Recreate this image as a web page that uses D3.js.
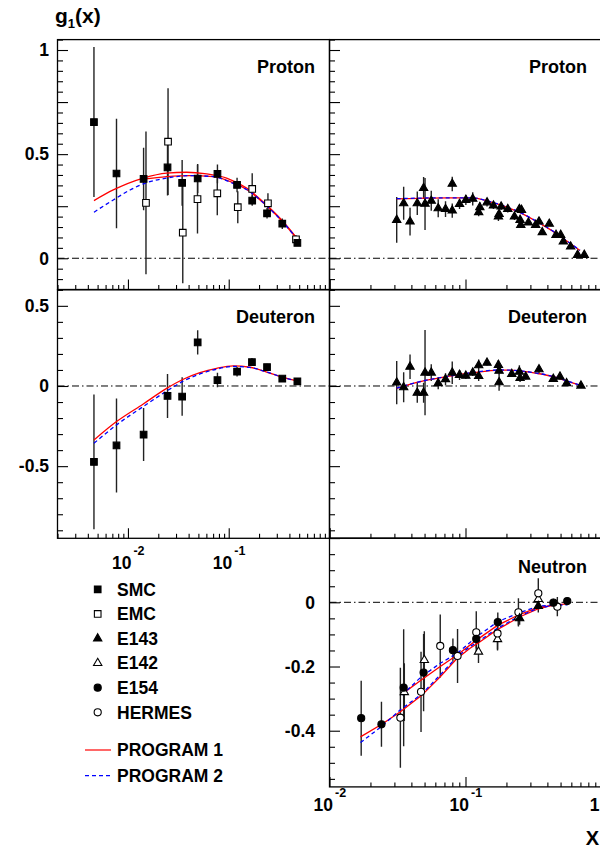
<!DOCTYPE html>
<html><head><meta charset="utf-8">
<script src="https://cdn.jsdelivr.net/npm/d3@7"></script>
<style>
body{margin:0;background:#fff}
svg{display:block}
text{font-family:"Liberation Sans",Arial,Helvetica,sans-serif;font-weight:bold;fill:#000}
</style>
</head><body>
<svg id="chart" width="600" height="848"></svg>
<script>
// ---- axis ranges and tick labels ----
const xDomainLow = [0.002, 1];      // SMC / EMC column
const xDomainHigh = [0.01, 1];      // SLAC / HERMES column
const protonRange = [-0.15, 1.05];
const deuteronRange = [-0.95, 0.6];
const neutronRange = [-0.575, 0.2];
const protonTickLabels = [0, 0.5, 1];
const deuteronTickLabels = [-0.5, 0, 0.5];
const neutronTickLabels = [-0.4, -0.2, 0];
const xLabelsLow = [0.01, 0.1];
const xLabelsHigh = [0.01, 0.1, 1];

// ---- measurements: [x, g1, error] ----
const smcProton = [
  [0.0046, 0.654, 0.36], [0.0077, 0.407, 0.263], [0.0143, 0.381, 0.15],
  [0.0247, 0.436, 0.135], [0.0345, 0.362, 0.11], [0.0492, 0.383, 0.07],
  [0.0773, 0.405, 0.045], [0.121, 0.352, 0.035], [0.171, 0.277, 0.025],
  [0.24, 0.216, 0.025], [0.34, 0.166, 0.025], [0.48, 0.074, 0.012]
];
const emcProton = [
  [0.0151, 0.266, 0.343], [0.025, 0.56, 0.256], [0.035, 0.123, 0.243],
  [0.049, 0.284, 0.165], [0.077, 0.312, 0.105], [0.123, 0.245, 0.077],
  [0.171, 0.333, 0.075], [0.245, 0.264, 0.048], [0.465, 0.091, 0.02]
];
const e143Proton = [
  [0.0312, 0.184, 0.11], [0.0351, 0.264, 0.079], [0.0391, 0.176, 0.067],
  [0.0442, 0.264, 0.056], [0.0492, 0.337, 0.053], [0.0504, 0.261, 0.125],
  [0.056, 0.276, 0.048], [0.063, 0.24, 0.043], [0.0713, 0.236, 0.038],
  [0.0799, 0.357, 0.035], [0.0799, 0.229, 0.034], [0.0904, 0.26, 0.024],
  [0.1006, 0.28, 0.024], [0.113, 0.285, 0.032], [0.125, 0.221, 0.019],
  [0.1275, 0.245, 0.024], [0.144, 0.268, 0.019], [0.1605, 0.253, 0.016],
  [0.1746, 0.2, 0.021], [0.1766, 0.212, 0.021], [0.1828, 0.248, 0.016],
  [0.2046, 0.236, 0.016], [0.229, 0.2, 0.016], [0.249, 0.236, 0.016],
  [0.252, 0.184, 0.019], [0.255, 0.16, 0.012], [0.258, 0.232, 0.013],
  [0.29, 0.171, 0.01], [0.328, 0.16, 0.01], [0.347, 0.176, 0.013],
  [0.367, 0.125, 0.013], [0.413, 0.165, 0.01], [0.463, 0.112, 0.01],
  [0.501, 0.112, 0.01], [0.524, 0.08, 0.01], [0.593, 0.056, 0.01],
  [0.667, 0.016, 0.008], [0.747, 0.016, 0.008]
];
const smcDeuteron = [
  [0.0046, -0.473, 0.42], [0.0077, -0.371, 0.293], [0.0143, -0.303, 0.165],
  [0.0247, -0.062, 0.137], [0.0345, -0.066, 0.12], [0.0492, 0.272, 0.075],
  [0.0773, 0.037, 0.045], [0.121, 0.089, 0.03], [0.17, 0.149, 0.025],
  [0.24, 0.118, 0.02], [0.34, 0.046, 0.015], [0.48, 0.029, 0.01]
];
const e143Deuteron = [
  [0.0312, 0.021, 0.135], [0.0351, -0.008, 0.093], [0.0391, 0.12, 0.077],
  [0.0442, -0.042, 0.062], [0.0492, -0.042, 0.062], [0.0504, 0.083, 0.266],
  [0.056, 0.083, 0.052], [0.063, 0.017, 0.037], [0.0713, 0.042, 0.037],
  [0.0799, 0.083, 0.07], [0.0904, 0.069, 0.031], [0.1006, 0.064, 0.021],
  [0.113, 0.083, 0.021], [0.125, 0.129, 0.037], [0.125, 0.062, 0.031],
  [0.144, 0.145, 0.017], [0.1746, 0.131, 0.031], [0.1766, 0.023, 0.052],
  [0.1766, 0.095, 0.021], [0.219, 0.075, 0.017], [0.249, 0.089, 0.041],
  [0.252, 0.05, 0.025], [0.277, 0.058, 0.017], [0.347, 0.104, 0.025],
  [0.442, 0.044, 0.017], [0.495, 0.058, 0.017], [0.554, 0.017, 0.012],
  [0.706, 0.002, 0.01]
];
const e154Neutron = [
  [0.0171, -0.361, 0.117], [0.0241, -0.38, 0.07], [0.0351, -0.266, 0.182],
  [0.0492, -0.219, 0.12], [0.0808, -0.149, 0.036], [0.12, -0.114, 0.03],
  [0.1728, -0.062, 0.03], [0.443, -0.001, 0.012], [0.56, 0.004, 0.008]
];
const e143Neutron = [
  [0.25, -0.05, 0.02], [0.343, -0.0115, 0.02]
];
const e142Neutron = [
  [0.0355, -0.28, 0.09], [0.0498, -0.18, 0.09], [0.1246, -0.154, 0.035],
  [0.172, -0.115, 0.035], [0.245, -0.047, 0.025], [0.343, 0.01, 0.025]
];
const hermesNeutron = [
  [0.0332, -0.3595, 0.156], [0.0471, -0.279, 0.125], [0.0652, -0.136, 0.098],
  [0.0874, -0.167, 0.084], [0.12, -0.0935, 0.066], [0.172, -0.097, 0.05],
  [0.245, -0.031, 0.044], [0.343, 0.028, 0.047], [0.4735, -0.0137, 0.03]
];

// ---- model curves: [x, g1] ----
const prog1ProtonLowA = [
  [0.0046, 0.277], [0.00715, 0.328], [0.0142, 0.385], [0.0242, 0.409],
  [0.0382, 0.413], [0.0604, 0.405], [0.0953, 0.385], [0.1506, 0.337],
  [0.2377, 0.256], [0.3475, 0.176], [0.49, 0.088]
];
const prog1ProtonLowB = [
  [0.0142, 0.38], [0.0242, 0.392], [0.0412, 0.397], [0.0703, 0.392],
  [0.11, 0.363], [0.1506, 0.33], [0.2377, 0.252], [0.3475, 0.172], [0.49, 0.085]
];
const prog2ProtonLow = [
  [0.0046, 0.221], [0.00715, 0.28], [0.0105, 0.328], [0.0153, 0.363],
  [0.0242, 0.385], [0.0412, 0.397], [0.0703, 0.392], [0.11, 0.36],
  [0.1506, 0.33], [0.2377, 0.252], [0.3475, 0.172], [0.49, 0.085]
];
const prog1ProtonHigh = [
  [0.0312, 0.285], [0.0466, 0.288], [0.073, 0.29], [0.113, 0.29],
  [0.1435, 0.276], [0.18, 0.256], [0.252, 0.219], [0.334, 0.176],
  [0.443, 0.128], [0.555, 0.083], [0.695, 0.037]
];
const prog2ProtonHigh = [
  [0.0312, 0.286], [0.0466, 0.289], [0.073, 0.29], [0.113, 0.29],
  [0.1435, 0.276], [0.18, 0.257], [0.252, 0.22], [0.334, 0.177],
  [0.443, 0.129], [0.555, 0.084], [0.695, 0.038]
];
const prog1DeuteronLow = [
  [0.0046, -0.337], [0.0077, -0.222], [0.0142, -0.112], [0.0242, -0.015],
  [0.0354, 0.042], [0.0518, 0.083], [0.0758, 0.11], [0.111, 0.125],
  [0.162, 0.117], [0.238, 0.087], [0.34, 0.055], [0.482, 0.03]
];
const prog2DeuteronLow = [
  [0.0046, -0.357], [0.0077, -0.243], [0.0142, -0.128], [0.0242, -0.032],
  [0.0354, 0.03], [0.0518, 0.075], [0.0758, 0.105], [0.111, 0.122],
  [0.162, 0.116], [0.238, 0.087], [0.34, 0.055], [0.482, 0.03]
];
const prog1DeuteronHigh = [
  [0.0312, -0.0145], [0.0466, 0.027], [0.073, 0.058], [0.113, 0.083],
  [0.18, 0.0996], [0.225, 0.0975], [0.334, 0.079], [0.443, 0.058],
  [0.555, 0.031], [0.706, 0.002]
];
const prog2DeuteronHigh = [
  [0.0312, -0.013], [0.0466, 0.028], [0.073, 0.059], [0.113, 0.084],
  [0.18, 0.1], [0.225, 0.098], [0.334, 0.08], [0.443, 0.059],
  [0.555, 0.032], [0.706, 0.003]
];
const prog1NeutronA = [
  [0.0169, -0.419], [0.0244, -0.379], [0.0332, -0.341], [0.0479, -0.289],
  [0.0652, -0.232], [0.0865, -0.175], [0.108, -0.143], [0.128, -0.123],
  [0.17, -0.086], [0.252, -0.045], [0.334, -0.022], [0.443, -0.008], [0.57, -0.005]
];
const prog1NeutronB = [
  [0.0341, -0.286], [0.0473, -0.242], [0.0652, -0.2], [0.0869, -0.164],
  [0.121, -0.117], [0.173, -0.071], [0.244, -0.04], [0.343, -0.016], [0.47, -0.008]
];
const prog2NeutronA = [
  [0.0169, -0.437], [0.0241, -0.387], [0.0332, -0.335], [0.0479, -0.285],
  [0.0652, -0.226], [0.0865, -0.17], [0.108, -0.138], [0.128, -0.118],
  [0.17, -0.082], [0.252, -0.042], [0.334, -0.02], [0.443, -0.009], [0.56, -0.008]
];
const prog2NeutronB = [
  [0.0341, -0.289], [0.0473, -0.232], [0.0652, -0.19], [0.0869, -0.159],
  [0.121, -0.107], [0.173, -0.06], [0.244, -0.034], [0.343, -0.012], [0.47, -0.008]
];

// ---- legend ----
const legendMarkers = [
  ["SMC", "square"], ["EMC", "squareOpen"], ["E143", "triangle"],
  ["E142", "triangleOpen"], ["E154", "circle"], ["HERMES", "circleOpen"]
];
const legendLines = [["PROGRAM 1", "prog1"], ["PROGRAM 2", "prog2"]];

// ---- drawing ----
const svg = d3.select("#chart");
svg.append("rect").attr("width", 600).attr("height", 848).attr("fill", "#fff");

const colLow = [57.5, 329.5], colHigh = [329.5, 601.5];
const rowP = [289.5, 39.6], rowD = [538.3, 289.8], rowN = [786.9, 538.1];

const xLow = d3.scaleLog().domain(xDomainLow).range(colLow);
const xHigh = d3.scaleLog().domain(xDomainHigh).range(colHigh);
const yP = d3.scaleLinear().domain(protonRange).range(rowP);
const yD = d3.scaleLinear().domain(deuteronRange).range(rowD);
const yN = d3.scaleLinear().domain(neutronRange).range(rowN);

const styles = {
  prog1: {stroke: "#ff0000", dash: null},
  prog2: {stroke: "#0000ff", dash: "4,3"}
};

const symbolDefs = {
  square: {type: d3.symbolSquare, size: 44, fill: "#000"},
  squareOpen: {type: d3.symbolSquare, size: 44, fill: "#fff"},
  triangle: {type: d3.symbolTriangle, size: 30, fill: "#000"},
  triangleOpen: {type: d3.symbolTriangle, size: 30, fill: "#fff"},
  circle: {type: d3.symbolCircle, size: 40, fill: "#000"},
  circleOpen: {type: d3.symbolCircle, size: 40, fill: "#fff"}
};

let clipId = 0;
function panel(x, y, opts) {
  const [x0, x1] = x.range(), [y0, y1] = y.range();
  const g = svg.append("g");
  const id = "clip" + (clipId++);
  svg.append("clipPath").attr("id", id).append("rect")
    .attr("x", x0).attr("y", y1).attr("width", x1 - x0).attr("height", y0 - y1);
  const plot = g.append("g").attr("clip-path", `url(#${id})`);

  // zero reference line
  plot.append("line").attr("x1", x0).attr("x2", x1)
    .attr("y1", y(0)).attr("y2", y(0))
    .attr("stroke", "#000").attr("stroke-width", 1)
    .attr("stroke-dasharray", "7,3,1.5,3");

  // y ticks
  const [d0, d1] = y.domain();
  const minor = [], major = [];
  const first = Math.ceil(d0 / opts.minorStep - 1e-6);
  for (let i = first; i * opts.minorStep <= d1 + 1e-9; i++) {
    const v = +(i * opts.minorStep).toFixed(6);
    const r = v / opts.majorStep;
    (Math.abs(r - Math.round(r)) < 1e-6 ? major : minor).push(v);
  }
  const yAxisG = g.append("g").attr("transform", `translate(${x0},0)`);
  yAxisG.append("g").call(d3.axisLeft(y).tickValues(major).tickSize(-10.5).tickFormat(""));
  yAxisG.append("g").call(d3.axisLeft(y).tickValues(minor).tickSize(-5.5).tickFormat(""));
  yAxisG.selectAll(".domain").remove();
  yAxisG.selectAll("line").attr("stroke", "#000").attr("stroke-width", 1.1);

  // x ticks along the lower edge, pointing up
  const xt = x.ticks();
  const xMajor = xt.filter(v => Math.abs(Math.log10(v) - Math.round(Math.log10(v))) < 1e-6);
  const xMinor = xt.filter(v => !xMajor.includes(v));
  const xAxisG = g.append("g").attr("transform", `translate(0,${y0})`);
  xAxisG.append("g").call(d3.axisBottom(x).tickValues(xMajor).tickSize(-10).tickFormat(""));
  xAxisG.append("g").call(d3.axisBottom(x).tickValues(xMinor).tickSize(-4.5).tickFormat(""));
  xAxisG.selectAll(".domain").remove();
  xAxisG.selectAll("line").attr("stroke", "#000").attr("stroke-width", 1.1);

  // frame
  g.append("rect").attr("x", x0).attr("y", y1).attr("width", x1 - x0).attr("height", y0 - y1)
    .attr("fill", "none").attr("stroke", "#000").attr("stroke-width", 1.3);

  // y tick labels
  if (opts.labels) {
    g.append("g").selectAll("text").data(opts.labels).join("text")
      .attr("x", opts.labelX).attr("y", d => y(d)).attr("dy", "0.36em")
      .attr("text-anchor", "end").attr("font-size", 17.5)
      .text(d => String(d));
  }

  // panel name
  g.append("text").attr("x", opts.nameX).attr("y", opts.nameY)
    .attr("text-anchor", "end").attr("font-size", 18).text(opts.name);

  return {plot, x, y};
}

function curves(p, list) {
  const line = d3.line().x(d => p.x(d[0])).y(d => p.y(d[1]));
  list.forEach(([data, key, smooth]) => {
    line.curve(smooth ? d3.curveMonotoneX : d3.curveLinear);
    p.plot.append("path").attr("d", line(data)).attr("fill", "none")
      .attr("stroke", styles[key].stroke).attr("stroke-width", 1.3)
      .attr("stroke-dasharray", styles[key].dash);
  });
}

function errorBars(p, data) {
  p.plot.append("g").selectAll("line").data(data).join("line")
    .attr("x1", d => p.x(d[0])).attr("x2", d => p.x(d[0]))
    .attr("y1", d => p.y(d[1] - d[2])).attr("y2", d => p.y(d[1] + d[2]))
    .attr("stroke", "#222").attr("stroke-width", 1.4);
}

function markers(p, data, kind) {
  const s = symbolDefs[kind];
  const sym = d3.symbol().type(s.type).size(s.size);
  p.plot.append("g").selectAll("path").data(data).join("path")
    .attr("transform", d => `translate(${p.x(d[0])},${p.y(d[1])})`)
    .attr("d", sym).attr("fill", s.fill).attr("stroke", "#000").attr("stroke-width", 1.1);
}

// Proton, low-x column
const pPL = panel(xLow, yP, {minorStep: 0.05, majorStep: 0.25, labels: protonTickLabels,
  labelX: 49, name: "Proton", nameX: 315, nameY: 73});
errorBars(pPL, smcProton); errorBars(pPL, emcProton);
curves(pPL, [[prog1ProtonLowA, "prog1", true], [prog1ProtonLowB, "prog1", true], [prog2ProtonLow, "prog2", true]]);
markers(pPL, emcProton, "squareOpen"); markers(pPL, smcProton, "square");

// Proton, high-x column
const pPH = panel(xHigh, yP, {minorStep: 0.05, majorStep: 0.25,
  name: "Proton", nameX: 587, nameY: 73});
errorBars(pPH, e143Proton);
curves(pPH, [[prog1ProtonHigh, "prog1", true], [prog2ProtonHigh, "prog2", true]]);
markers(pPH, e143Proton, "triangle");

// Deuteron, low-x column
const pDL = panel(xLow, yD, {minorStep: 0.1, majorStep: 0.5, labels: deuteronTickLabels,
  labelX: 49, name: "Deuteron", nameX: 315, nameY: 322.5});
errorBars(pDL, smcDeuteron);
curves(pDL, [[prog1DeuteronLow, "prog1", true], [prog2DeuteronLow, "prog2", true]]);
markers(pDL, smcDeuteron, "square");

// Deuteron, high-x column
const pDH = panel(xHigh, yD, {minorStep: 0.1, majorStep: 0.5,
  name: "Deuteron", nameX: 587, nameY: 322.5});
errorBars(pDH, e143Deuteron);
curves(pDH, [[prog1DeuteronHigh, "prog1", true], [prog2DeuteronHigh, "prog2", true]]);
markers(pDH, e143Deuteron, "triangle");

// Neutron, high-x column
const pNH = panel(xHigh, yN, {minorStep: 0.05, majorStep: 0.2, labels: neutronTickLabels,
  labelX: 315, name: "Neutron", nameX: 587, nameY: 572.5});
[e154Neutron, e143Neutron, e142Neutron, hermesNeutron].forEach(d => errorBars(pNH, d));
curves(pNH, [[prog1NeutronA, "prog1", false], [prog1NeutronB, "prog1", false],
  [prog2NeutronA, "prog2", false], [prog2NeutronB, "prog2", false]]);
markers(pNH, e142Neutron, "triangleOpen");
markers(pNH, hermesNeutron, "circleOpen");
markers(pNH, e143Neutron, "triangle");
markers(pNH, e154Neutron, "circle");

// x tick labels (powers of ten)
function xLabels(x, values, baseY) {
  values.forEach(v => {
    const e = Math.round(Math.log10(v));
    const px = Math.min(x(v), 596);
    if (e === 0) {
      svg.append("text").attr("x", px + 3.5).attr("y", baseY).attr("text-anchor", "end")
        .attr("font-size", 17.5).text("1");
    } else {
      svg.append("text").attr("x", px + 3.5).attr("y", baseY).attr("text-anchor", "end")
        .attr("font-size", 17.5).text("10");
      svg.append("text").attr("x", px + 5.5).attr("y", baseY - 13.5).attr("text-anchor", "start")
        .attr("font-size", 12.5).text(String(e));
    }
  });
}
xLabels(xLow, xLabelsLow, 568.5);
xLabels(xHigh, xLabelsHigh, 810.5);

// axis titles
const title = svg.append("text").attr("x", 55).attr("y", 23).attr("font-size", 21);
title.append("tspan").text("g");
title.append("tspan").attr("font-size", 13).attr("dy", 5).text("1");
title.append("tspan").attr("dy", -5).text("(x)");
svg.append("text").attr("x", 599).attr("y", 845).attr("text-anchor", "end")
  .attr("font-size", 20).text("X");

// legend
const leg = svg.append("g");
const rowY = d3.scaleLinear().domain([0, 1]).range([589.3, 613.9]);
legendMarkers.forEach(([label, kind], i) => {
  const s = symbolDefs[kind];
  leg.append("path").attr("transform", `translate(97.7,${rowY(i)})`)
    .attr("d", d3.symbol().type(s.type).size(s.size)).attr("fill", s.fill)
    .attr("stroke", "#000").attr("stroke-width", 1.1);
  leg.append("text").attr("x", 117).attr("y", rowY(i)).attr("dy", "0.36em")
    .attr("font-size", 17.5).text(label);
});
legendLines.forEach(([label, key], i) => {
  const yy = 750 + i * 25.7;
  leg.append("line").attr("x1", 85).attr("x2", 111).attr("y1", yy).attr("y2", yy)
    .attr("stroke", styles[key].stroke).attr("stroke-width", 1.2)
    .attr("stroke-dasharray", styles[key].dash);
  leg.append("text").attr("x", 117).attr("y", yy).attr("dy", "0.36em")
    .attr("font-size", 17.5).text(label);
});
</script>
</body></html>
